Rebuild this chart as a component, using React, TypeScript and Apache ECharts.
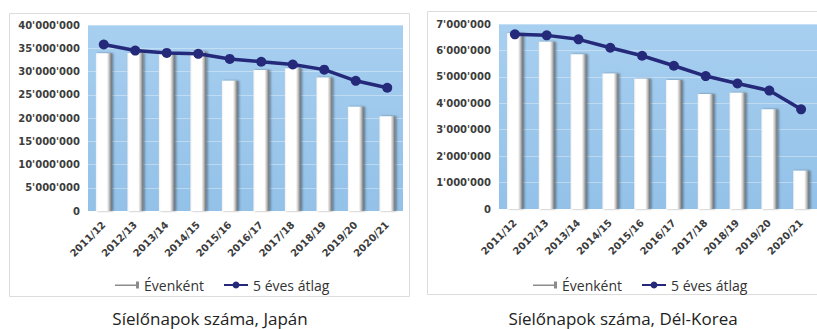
import React, { useEffect, useRef } from "react";
import * as echarts from "echarts";

const categories = ["2011/12", "2012/13", "2013/14", "2014/15", "2015/16", "2016/17", "2017/18", "2018/19", "2019/20", "2020/21"];
const japanYearly = [33900000, 34000000, 33800000, 34300000, 28000000, 30300000, 30700000, 28700000, 22400000, 20400000];
const japanAvg = [35800000, 34500000, 34000000, 33800000, 32700000, 32100000, 31500000, 30400000, 28000000, 26500000];
const koreaYearly = [6650000, 6330000, 5860000, 5130000, 4930000, 4880000, 4350000, 4400000, 3770000, 1450000];
const koreaAvg = [6610000, 6570000, 6420000, 6100000, 5800000, 5420000, 5030000, 4750000, 4480000, 3770000];
const seriesNames = ["Évenként", "5 éves átlag"];
const titles = ["Síelőnapok száma, Japán", "Síelőnapok száma, Dél-Korea"];

const fmt = (v: number) => String(v).replace(/\B(?=(\d{3})+(?!\d))/g, "'");

const barFill = new echarts.graphic.LinearGradient(0, 0, 1, 0, [
  { offset: 0, color: "#eeeeee" },
  { offset: 0.12, color: "#ffffff" },
  { offset: 0.7, color: "#ffffff" },
  { offset: 0.82, color: "#cfcfcf" },
  { offset: 1, color: "#6e6e6e" },
]);
const plotBg = new echarts.graphic.LinearGradient(0, 0, 0, 1, [
  { offset: 0, color: "#a7cff0" },
  { offset: 1, color: "#93c1e8" },
]);
const lineColor = "#25297a";
const labelColor = "#3c3c3c";

export default function App() {
  const ref = useRef<HTMLDivElement>(null);
  useEffect(() => {
    if (!ref.current) return;
    const chart = echarts.init(ref.current, null, { renderer: "svg" });
    const yAxisCommon = {
      type: "value" as const,
      min: 0,
      axisLine: { show: false },
      axisTick: { show: false },
      axisLabel: { color: labelColor, fontFamily: "DejaVu Sans", fontWeight: "bold" as const, fontSize: 10, margin: 8, formatter: fmt },
      splitLine: { lineStyle: { color: "rgba(255,255,255,0.35)", width: 1 } },
    };
    const xAxisCommon = {
      type: "category" as const,
      data: categories,
      axisLine: { show: false },
      axisTick: { show: false },
      axisLabel: { rotate: 45, color: labelColor, fontFamily: "DejaVu Sans", fontWeight: "bold" as const, fontSize: 10, margin: 12, interval: 0 },
    };
    const barCommon = {
      type: "bar" as const,
      name: seriesNames[0],
      barWidth: "50%",
      itemStyle: { color: barFill, shadowColor: "rgba(0,0,0,0.4)", shadowBlur: 2, shadowOffsetX: 1.5 },
    };
    const lineCommon = {
      type: "line" as const,
      name: seriesNames[1],
      symbol: "circle",
      symbolSize: 10,
      lineStyle: { color: lineColor, width: 3.5 },
      itemStyle: { color: lineColor },
    };
    const legendCommon = {
      orient: "horizontal" as const,
      itemGap: 20,
      itemWidth: 24,
      itemHeight: 10,
      textStyle: { fontFamily: "Open Sans", fontSize: 14, color: "#333333" },
      data: [
        { name: seriesNames[0], icon: "path://M0,5 L22,5 L22,6.5 L0,6.5 Z M21,2 L24,2 L24,9 L21,9 Z", itemStyle: { color: "#8c8c8c" } },
        { name: seriesNames[1], icon: "path://M0,4 L24,4 L24,6 L0,6 Z M12,1.5 A3.5,3.5 0 1 1 11.99,1.5 Z", itemStyle: { color: lineColor } },
      ],
    };
    chart.setOption({
      animation: false,
      backgroundColor: "#ffffff",
      grid: [
        { left: 88, top: 25, width: 315, height: 186, show: true, backgroundColor: plotBg, borderWidth: 0 },
        { left: 499, top: 24, width: 321, height: 185, show: true, backgroundColor: plotBg, borderWidth: 0 },
      ],
      xAxis: [
        { ...xAxisCommon, gridIndex: 0 },
        { ...xAxisCommon, gridIndex: 1 },
      ],
      yAxis: [
        { ...yAxisCommon, gridIndex: 0, max: 40000000, interval: 5000000 },
        { ...yAxisCommon, gridIndex: 1, max: 7000000, interval: 1000000 },
      ],
      legend: [
        { ...legendCommon, left: 110, top: 273 },
        { ...legendCommon, left: 528, top: 273 },
      ],
      series: [
        { ...barCommon, xAxisIndex: 0, yAxisIndex: 0, data: japanYearly },
        { ...lineCommon, xAxisIndex: 0, yAxisIndex: 0, data: japanAvg },
        { ...barCommon, xAxisIndex: 1, yAxisIndex: 1, data: koreaYearly },
        { ...lineCommon, xAxisIndex: 1, yAxisIndex: 1, data: koreaAvg },
      ],
      graphic: [
        { type: "rect", z: -10, shape: { x: 9.5, y: 13.5, width: 400, height: 283 }, style: { fill: "none", stroke: "#dcdcdc", lineWidth: 1 } },
        { type: "rect", z: -10, shape: { x: 427.5, y: 11.5, width: 400, height: 283 }, style: { fill: "none", stroke: "#dcdcdc", lineWidth: 1 } },
        { type: "text", x: 210, y: 318, style: { text: titles[0], fontFamily: "Open Sans", fontSize: 17, fill: "#222222", textAlign: "center", textVerticalAlign: "middle" } },
        { type: "text", x: 623, y: 318, style: { text: titles[1], fontFamily: "Open Sans", fontSize: 17, fill: "#222222", textAlign: "center", textVerticalAlign: "middle" } },
      ],
    });
    return () => chart.dispose();
  }, []);
  return <div ref={ref} style={{ position: "fixed", left: 0, top: 0, width: 817, height: 329 }} />;
}
